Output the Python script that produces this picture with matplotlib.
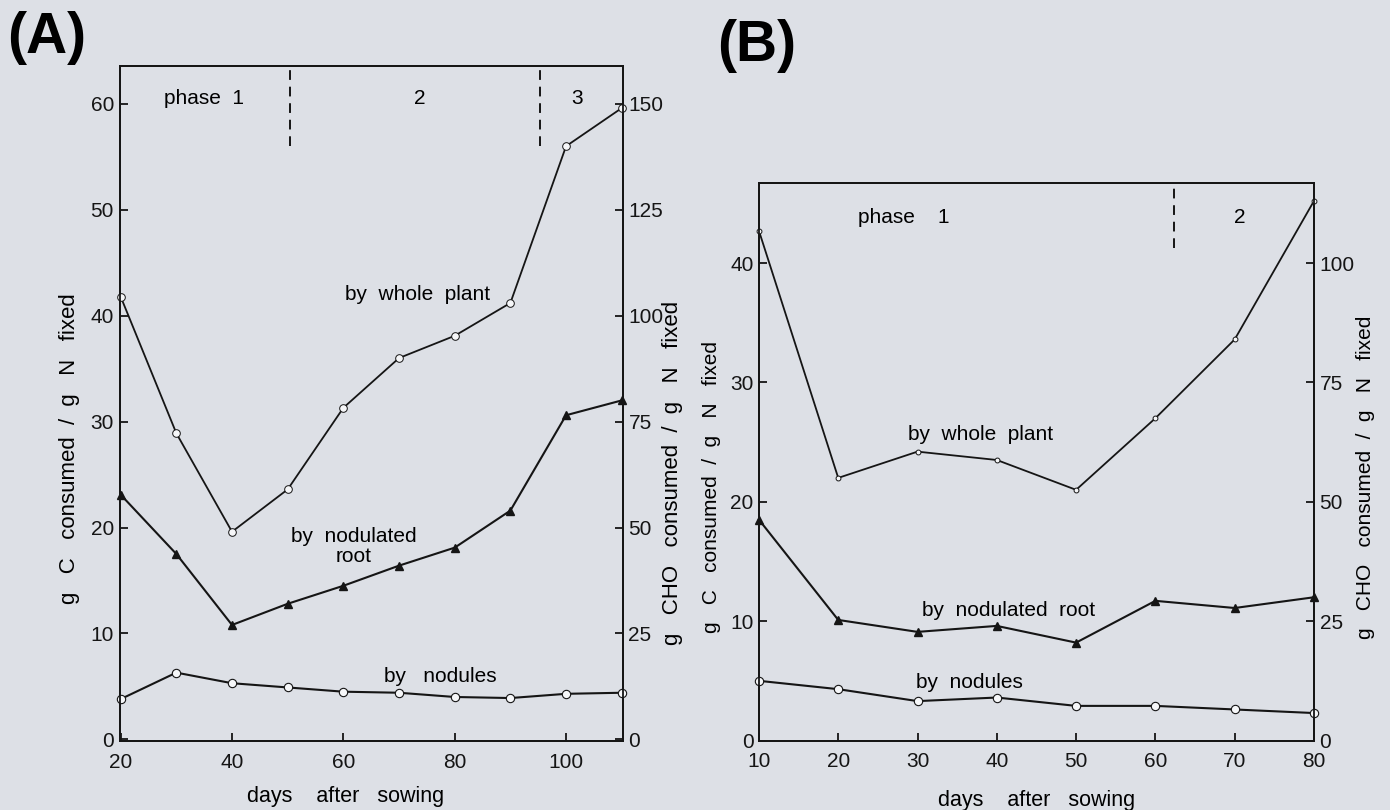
import matplotlib
matplotlib.use('Agg')
import matplotlib.pyplot as plt

plt.rcParams['font.family'] = ['Liberation Sans', 'DejaVu Sans']

# panel A data
days_a = [20, 30, 40, 50, 60, 70, 80, 90, 100, 110]
whole_a = [41.8, 28.9, 19.6, 23.6, 31.3, 36.0, 38.1, 41.2, 56.0, 59.6]
root_a = [23.1, 17.5, 10.8, 12.8, 14.5, 16.4, 18.1, 21.6, 30.6, 32.0]
nod_a = [3.8, 6.3, 5.3, 4.9, 4.5, 4.4, 4.0, 3.9, 4.3, 4.4]
phase_a = [50.4, 95.3]

# panel B data
days_b = [10, 20, 30, 40, 50, 60, 70, 80]
whole_b = [42.7, 22.0, 24.2, 23.5, 21.0, 27.0, 33.6, 45.2]
root_b = [18.5, 10.1, 9.1, 9.6, 8.2, 11.7, 11.1, 12.0]
nod_b = [5.0, 4.3, 3.3, 3.6, 2.9, 2.9, 2.6, 2.3]
phase_b = [62.3]

ylab_left = 'g   C   consumed  /  g   N   fixed'
ylab_right = 'g   CHO   consumed  /  g   N   fixed'
xlab = 'days    after   sowing'

bg = '#dde0e6'
ink = '#151515'
fs_tick = 15
fs_txt = 15

fig = plt.figure(figsize=(13.9, 8.1), dpi=100, facecolor=bg)
axA = fig.add_axes([0.0860, 0.0846, 0.3621, 0.8343])
axB = fig.add_axes([0.5460, 0.0858, 0.3993, 0.6882])


def style(ax, ax2, ylim, yticks, yticks2):
    ax.set_facecolor(bg)
    ax.set_ylim(*ylim)
    ax2.set_ylim(ylim[0] * 2.5, ylim[1] * 2.5)
    ax.set_yticks(yticks)
    ax2.set_yticks(yticks2)
    for a in (ax, ax2):
        for s in a.spines.values():
            s.set_linewidth(1.3)
            s.set_color(ink)
        a.tick_params(direction='in', length=6, width=1.3, labelsize=fs_tick,
                      colors=ink, pad=4)
    ax.tick_params(axis='x', pad=8)


def draw(ax, days, whole, root, nod, ms_whole):
    ax.plot(days, whole, '-', color=ink, lw=1.3, marker='o', ms=ms_whole,
            mfc='#f6f7f9', mec=ink, mew=0.7, clip_on=False, zorder=3)
    ax.plot(days, root, '-', color=ink, lw=1.5, marker='^', ms=6,
            mfc=ink, mec=ink, clip_on=False, zorder=3)
    ax.plot(days, nod, '-', color=ink, lw=1.5, marker='o', ms=6,
            mfc='#f6f7f9', mec=ink, mew=0.8, clip_on=False, zorder=3)


# ---- panel A ----
axA2 = axA.twinx()
axA.set_xlim(19.8, 110.2)
axA.set_xticks([20, 40, 60, 80, 100])
style(axA, axA2, (-0.2, 63.6), [0, 10, 20, 30, 40, 50, 60],
      [0, 25, 50, 75, 100, 125, 150])
draw(axA, days_a, whole_a, root_a, nod_a, 5.5)
for xp in phase_a:
    axA.plot([xp, xp], [56, 63.6], color=ink, lw=1.4, ls=(0, (5, 3.5)))
axA.text(35, 60.5, 'phase  1', ha='center', va='center', fontsize=fs_txt)
axA.text(73.7, 60.5, '2', ha='center', va='center', fontsize=fs_txt)
axA.text(102, 60.5, '3', ha='center', va='center', fontsize=fs_txt)
axA.text(73.4, 42.0, 'by  whole  plant', ha='center', va='center', fontsize=fs_txt)
axA.text(61.8, 18.2, 'by  nodulated\nroot', ha='center', va='center',
         fontsize=fs_txt, linespacing=1.1)
axA.text(77.4, 5.9, 'by   nodules', ha='center', va='center', fontsize=fs_txt)
axA.set_xlabel(xlab, fontsize=15.5, va='center')
axA.xaxis.set_label_coords(0.45, -0.081)
axA.set_ylabel(ylab_left, fontsize=16, va='center')
axA.yaxis.set_label_coords(-0.099, 0.434)
axA2.set_ylabel(ylab_right, fontsize=16, va='center')
axA2.yaxis.set_label_coords(1.098, 0.397)

# ---- panel B ----
axB2 = axB.twinx()
axB.set_xlim(10, 80)
axB.set_xticks(days_b)
style(axB, axB2, (0, 46.7), [0, 10, 20, 30, 40], [0, 25, 50, 75, 100])
draw(axB, days_b, whole_b, root_b, nod_b, 3.5)
for xp in phase_b:
    axB.plot([xp, xp], [41.3, 46.7], color=ink, lw=1.4, ls=(0, (5, 3.5)))
axB.text(28.3, 43.85, 'phase    1', ha='center', va='center', fontsize=fs_txt)
axB.text(70.7, 43.85, '2', ha='center', va='center', fontsize=fs_txt)
axB.text(37.9, 25.6, 'by  whole  plant', ha='center', va='center', fontsize=fs_txt)
axB.text(41.5, 10.9, 'by  nodulated  root', ha='center', va='center', fontsize=fs_txt)
axB.text(36.5, 4.9, 'by  nodules', ha='center', va='center', fontsize=fs_txt)
axB.set_xlabel(xlab, fontsize=15.5, va='center')
axB.xaxis.set_label_coords(0.5, -0.107)
axB.set_ylabel(ylab_left, fontsize=15, va='center')
axB.yaxis.set_label_coords(-0.086, 0.455)
axB2.set_ylabel(ylab_right, fontsize=15, va='center')
axB2.yaxis.set_label_coords(1.092, 0.473)

fig.text(0.005, 0.986, '(A)', fontsize=41, fontweight='bold', va='top', ha='left')
fig.text(0.516, 0.977, '(B)', fontsize=41, fontweight='bold', va='top', ha='left')

fig.savefig('out.png', dpi=100, facecolor=bg)
